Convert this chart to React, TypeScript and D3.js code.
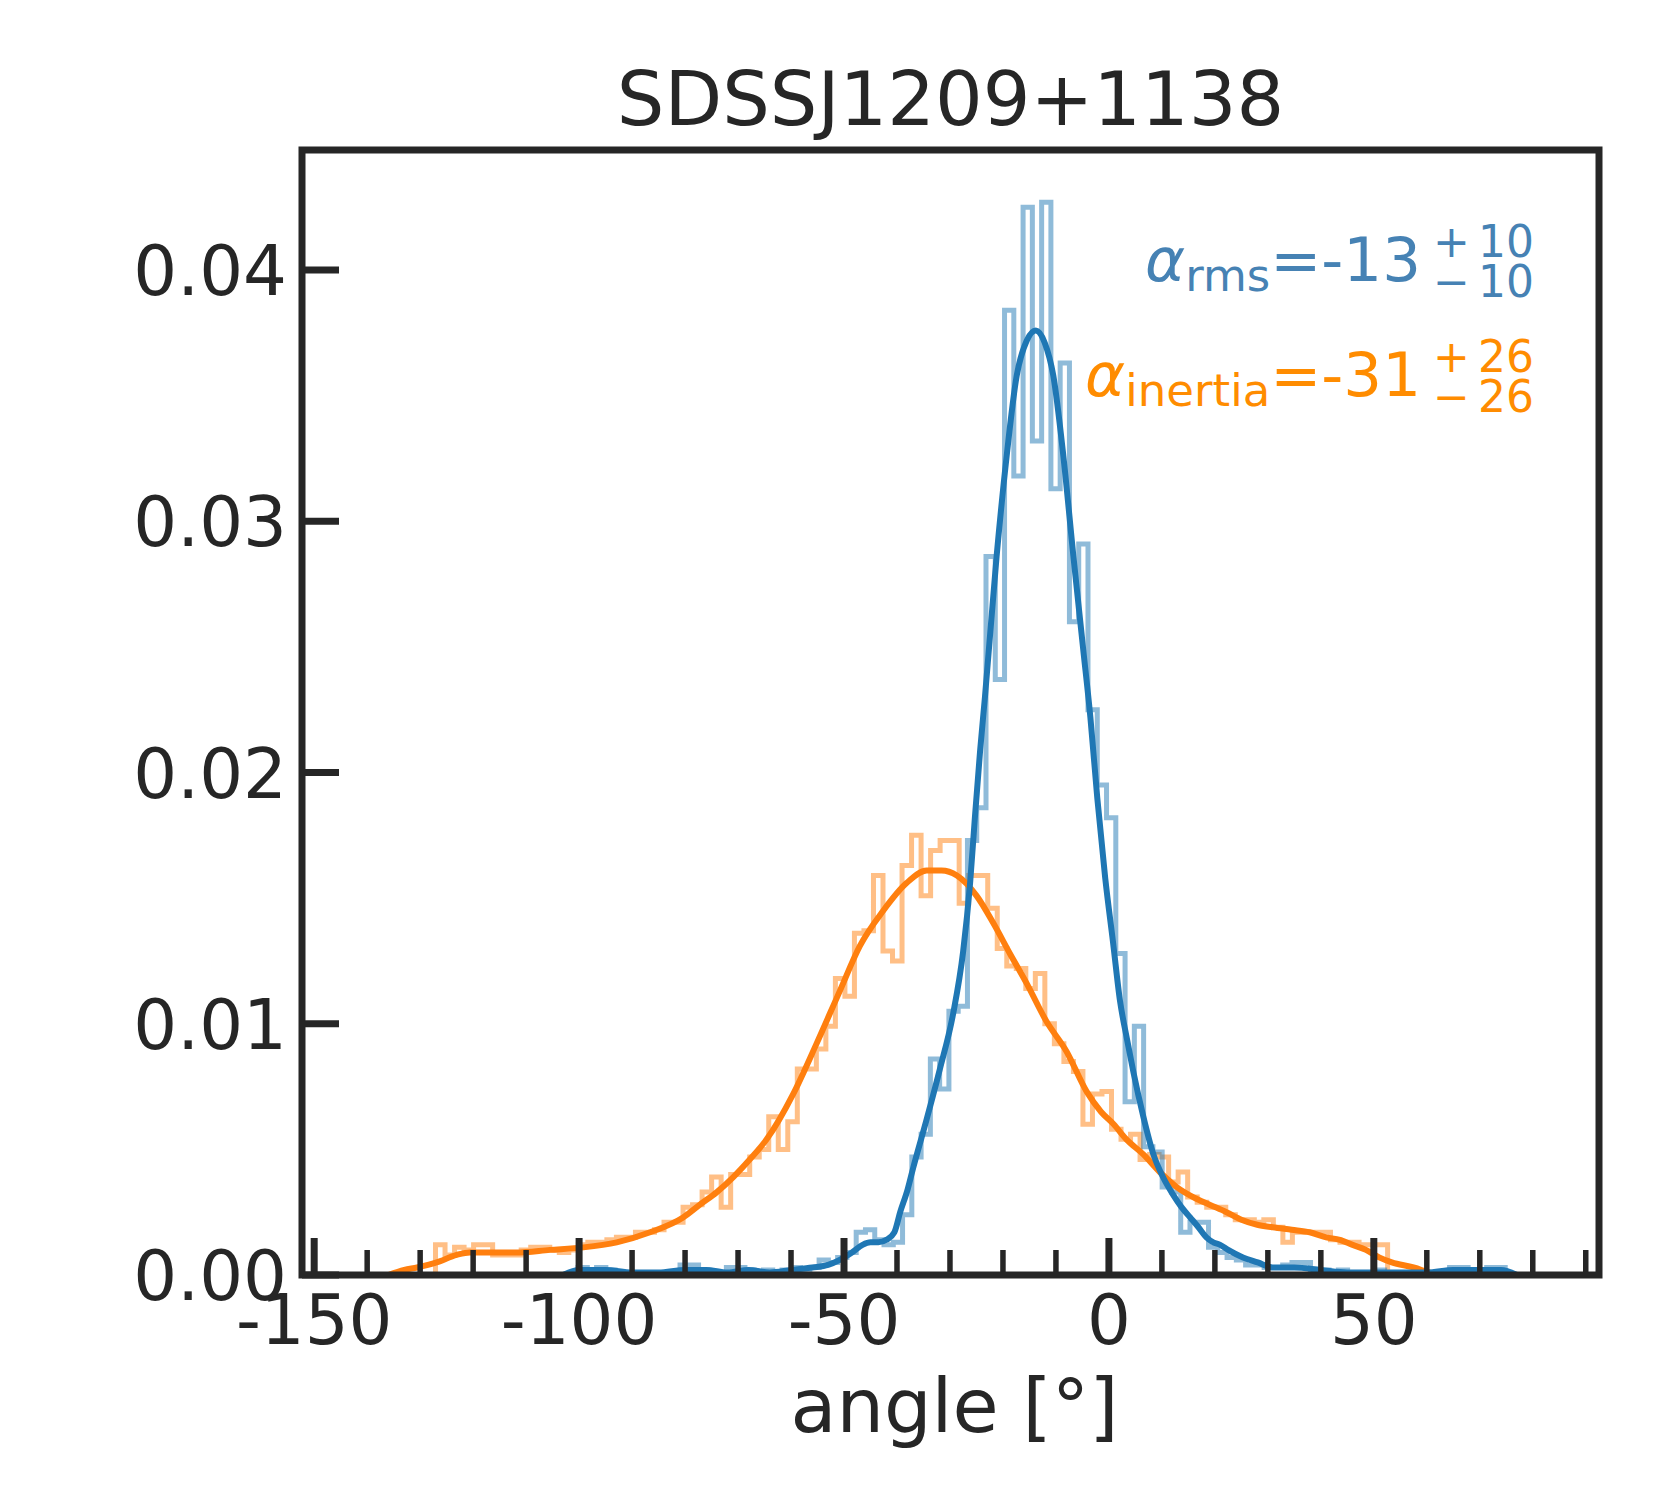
import React from 'react';
import * as d3 from 'd3';

// ---------- data ----------
const title = 'SDSSJ1209+1138';
const xLabel = 'angle [°]';
const xMajorTicks = [-150, -100, -50, 0, 50];
const xMinorTicks = [-140, -130, -120, -110, -90, -80, -70, -60, -40, -30, -20, -10, 10, 20, 30, 40, 60, 70, 80, 90];
const yTicks = [0, 0.01, 0.02, 0.03, 0.04];
const yTickLabels = ['0.00', '0.01', '0.02', '0.03', '0.04'];

// rms histogram (blue): first bin edge and bin width in degrees
const rmsStart = -100.2;
const rmsBinWidth = 1.75;
const rmsHist = [
  0.0003, 0.0002, 0.0003, 0.0002, 0, 0, 0, 0, 0, 0,
  0, 0.0004, 0.0004, 0.0002, 0, 0, 0.0003, 0.0003, 0.0002, 0,
  0.0002, 0, 0.0002, 0.0003, 0.0002, 0.0003, 0.0006, 0.0005, 0.0007, 0.0009,
  0.0017, 0.0018, 0.0014, 0.0012, 0.0013, 0.0024, 0.0047, 0.0056, 0.0086, 0.0074,
  0.0105, 0.0107, 0.0173, 0.0186, 0.0286, 0.0237, 0.0384, 0.0318, 0.0425, 0.0332,
  0.0427, 0.0313, 0.0363, 0.0260, 0.0291, 0.0225, 0.0195, 0.0182, 0.0128, 0.0069,
  0.0099, 0.0051, 0.0049, 0.0035, 0.0033, 0.0017, 0.0021, 0.0021, 0.0011, 0.0009,
  0.0007, 0.0006, 0.0004, 0.0004, 0.0003, 0.0003, 0.0004, 0.0005, 0.0005, 0.0002,
  0.0002, 0, 0.0002, 0, 0, 0, 0.0002, 0, 0, 0,
  0, 0, 0, 0, 0.0003, 0.0003, 0, 0, 0.0003, 0.0003,
];

// inertia histogram (orange)
const inertiaStart = -127.1;
const inertiaBinWidth = 1.797;
const inertiaHist = [
  0.0012, 0.0008, 0.0011, 0.0010, 0.0012, 0.0012, 0.0008, 0.0008, 0.0008, 0.0010,
  0.0011, 0.0011, 0.0010, 0.0009, 0.0010, 0.0012, 0.0013, 0.0013, 0.0014, 0.0015,
  0.0015, 0.0017, 0.0017, 0.0018, 0.0021, 0.0021, 0.0027, 0.0028, 0.0033, 0.0039,
  0.0027, 0.0040, 0.0040, 0.0047, 0.0050, 0.0063, 0.0050, 0.0061, 0.0082, 0.0082,
  0.0090, 0.0099, 0.0118, 0.0111, 0.0136, 0.0137, 0.0159, 0.0129, 0.0125, 0.0163,
  0.0175, 0.0151, 0.0169, 0.0173, 0.0173, 0.0148, 0.0159, 0.0159, 0.0146, 0.0130,
  0.0123, 0.0122, 0.0114, 0.0120, 0.0100, 0.0092, 0.0085, 0.0081, 0.0060, 0.0072,
  0.0073, 0.0058, 0.0054, 0.0056, 0.0046, 0.0048, 0.0047, 0.0037, 0.0041, 0.0031,
  0.0029, 0.0027, 0.0027, 0.0024, 0.0022, 0.0022, 0.0021, 0.0022, 0.0019, 0.0013,
  0.0017, 0.0017, 0.0017, 0.0017, 0.0014, 0.0013, 0.0013, 0.0012, 0.0012, 0.0012,
];

// KDE curves: [angle, density]
const rmsKde: [number, number][] = [
  [-103, 0], [-100, 0.0002], [-95, 0.0002], [-90, 0.0001], [-85, 0.0001], [-80, 0.0002],
  [-76, 0.0002], [-72, 0.0001], [-68, 0.0002], [-64, 0.0001], [-60, 0.0002], [-56, 0.0003],
  [-53, 0.0004], [-50.8, 0.0006], [-48.5, 0.0009], [-46.5, 0.0012], [-45, 0.0013], [-43.5, 0.0013],
  [-42, 0.0014], [-40.5, 0.0017], [-39.4, 0.0025], [-38, 0.0034], [-36.9, 0.0043], [-34.4, 0.0062],
  [-31.9, 0.0082], [-29.4, 0.0104], [-27.5, 0.0129], [-26.2, 0.0156], [-25.3, 0.0182], [-24.3, 0.0209],
  [-23.4, 0.0230], [-21.2, 0.0286], [-19.3, 0.0326], [-17.4, 0.0358], [-15.5, 0.0372], [-13.8, 0.0376],
  [-12.1, 0.0371], [-10.5, 0.0358], [-8.6, 0.0326], [-6.7, 0.0286], [-4.85, 0.0249], [-3.5, 0.0222],
  [-2.2, 0.0190], [-0.7, 0.0158], [0.8, 0.0132], [2.1, 0.0109], [3.4, 0.0094], [4.6, 0.0081],
  [6.5, 0.0063], [8.4, 0.0048], [10.2, 0.0039], [12.1, 0.0032], [13.7, 0.0027], [15.3, 0.0023],
  [16.9, 0.0019], [18.4, 0.0015], [19.7, 0.0013], [21, 0.0012], [22.5, 0.0010], [25.3, 0.0007],
  [28.1, 0.0005], [30.9, 0.0003], [35, 0.0003], [40, 0.0002], [45, 0.0001], [50, 0.0001],
  [55, 0.0001], [60, 0.0001], [65, 0.0002], [70, 0.0002], [74, 0.0002], [77, 0],
];

const inertiaKde: [number, number][] = [
  [-136, 0], [-133, 0.0002], [-130.6, 0.0003], [-126.9, 0.0005], [-123.1, 0.0008], [-120.6, 0.0009],
  [-116.8, 0.0009], [-111.8, 0.0009], [-105.5, 0.0010], [-99.2, 0.0011], [-92.9, 0.0013], [-86.6, 0.0017],
  [-80.3, 0.0023], [-77.2, 0.0028], [-74, 0.0033], [-70.9, 0.0039], [-67.8, 0.0046], [-64.6, 0.0054],
  [-59.6, 0.0072], [-55.2, 0.0092], [-50.8, 0.0113], [-47.0, 0.0131], [-42.6, 0.0145], [-38.2, 0.0156],
  [-34.4, 0.0161], [-31.6, 0.0161], [-28.7, 0.0159], [-25.0, 0.0151], [-21.8, 0.0140], [-18.7, 0.0128],
  [-15.5, 0.0116], [-11.8, 0.0101], [-8.0, 0.0089], [-4.2, 0.0073], [-1.5, 0.0065], [0.9, 0.0060],
  [3.3, 0.0054], [6.5, 0.0048], [9.6, 0.0041], [12.8, 0.0035], [15.9, 0.0031], [19, 0.0028],
  [22.2, 0.0025], [25, 0.0022], [28, 0.0020], [30.9, 0.0019], [34.5, 0.0018], [37.9, 0.0017],
  [41, 0.0015], [43.6, 0.0014], [46, 0.0012], [48.5, 0.0010], [51, 0.0007], [53.4, 0.0005],
  [57.5, 0.0003], [60.4, 0.0001], [62, 0],
];

const rmsLabel = { name: 'rms', value: '-13', plus: '10', minus: '10' };
const inertiaLabel = { name: 'inertia', value: '-31', plus: '26', minus: '26' };

// ---------- layout ----------
const W = 1680;
const H = 1500;
const M = { left: 302, right: 1599, top: 150, bottom: 1275 };
const FONT = 'DejaVu Sans';
const DARK = '#262626';
const BLUE = '#1f77b4';
const ORANGE = '#ff7f0e';

const x = d3.scaleLinear().domain([-152.3, 92.5]).range([M.left, M.right]);
const y = d3.scaleLinear().domain([0, 0.04478]).range([M.bottom, M.top]);

function stepPath(start: number, width: number, values: number[]): string {
  const pts: [number, number][] = [[start, 0]];
  values.forEach((v, i) => {
    const e0 = start + i * width;
    const e1 = start + (i + 1) * width;
    pts.push([e0, v]);
    pts.push([e1, v]);
  });
  pts.push([start + values.length * width, 0]);
  const line = d3.line<[number, number]>().x((d) => x(d[0])).y((d) => y(d[1]));
  return line(pts) || '';
}

const kdeLine = d3
  .line<[number, number]>()
  .x((d) => x(d[0]))
  .y((d) => y(d[1]))
  .curve(d3.curveMonotoneX);

function Annotation({ lab, color, baseline }: { lab: typeof rmsLabel; color: string; baseline: number }) {
  const mainEnd = 1421;
  return (
    <g fill={color} fontFamily={FONT}>
      <text x={mainEnd} y={baseline} fontSize={61} textAnchor="end">
        <tspan fontStyle="italic">α</tspan>
        <tspan fontSize={45} dy={10}>{lab.name}</tspan>
        <tspan dy={-10}>={lab.value}</tspan>
      </text>
      <text x={1433} y={baseline - 24} fontSize={44}>+</text>
      <text x={1478} y={baseline - 24} fontSize={44}>{lab.plus}</text>
      <text x={1433} y={baseline + 16} fontSize={44}>−</text>
      <text x={1478} y={baseline + 16} fontSize={44}>{lab.minus}</text>
    </g>
  );
}

export default function App() {
  return (
    <svg
      width={W}
      height={H}
      viewBox={`0 0 ${W} ${H}`}
      style={{ position: 'absolute', left: 0, top: 0, display: 'block' }}
      fontFamily={FONT}
    >
      <rect x={0} y={0} width={W} height={H} fill="#ffffff" />
      <defs>
        <clipPath id="plotArea">
          <rect x={M.left} y={M.top} width={M.right - M.left} height={M.bottom - M.top} />
        </clipPath>
      </defs>

      <g clipPath="url(#plotArea)">
        <path d={stepPath(inertiaStart, inertiaBinWidth, inertiaHist)} fill="none" stroke={ORANGE} strokeOpacity={0.5} strokeWidth={5} />
        <path d={stepPath(rmsStart, rmsBinWidth, rmsHist)} fill="none" stroke={BLUE} strokeOpacity={0.5} strokeWidth={5} />
        <path d={kdeLine(inertiaKde) || ''} fill="none" stroke={ORANGE} strokeWidth={6} strokeLinecap="round" />
        <path d={kdeLine(rmsKde) || ''} fill="none" stroke={BLUE} strokeWidth={6} strokeLinecap="round" />
      </g>

      {/* ticks (inward) */}
      <g stroke={DARK}>
        {xMajorTicks.map((t) => (
          <line key={`xm${t}`} x1={x(t)} x2={x(t)} y1={M.bottom} y2={M.bottom - 37} strokeWidth={7} />
        ))}
        {xMinorTicks.map((t) => (
          <line key={`xn${t}`} x1={x(t)} x2={x(t)} y1={M.bottom} y2={M.bottom - 25} strokeWidth={5.5} />
        ))}
        {yTicks.map((t) => (
          <line key={`y${t}`} x1={M.left} x2={M.left + 37} y1={y(t)} y2={y(t)} strokeWidth={7} />
        ))}
      </g>

      {/* spines */}
      <rect
        x={M.left}
        y={M.top}
        width={M.right - M.left}
        height={M.bottom - M.top}
        fill="none"
        stroke={DARK}
        strokeWidth={7}
      />

      {/* tick labels */}
      <g fill={DARK} fontSize={69}>
        {xMajorTicks.map((t) => (
          <text key={`xl${t}`} x={x(t)} y={1344} textAnchor="middle">
            {String(t)}
          </text>
        ))}
        {yTicks.map((t, i) => (
          <text key={`yl${t}`} x={287} y={y(t) + 25} textAnchor="end">
            {yTickLabels[i]}
          </text>
        ))}
      </g>

      <text x={(M.left + M.right) / 2} y={125} fontSize={75} textAnchor="middle" fill={DARK}>
        {title}
      </text>
      <text x={(M.left + M.right) / 2 + 4} y={1432} fontSize={75} textAnchor="middle" fill={DARK}>
        {xLabel}
      </text>

      <Annotation lab={rmsLabel} color="#4682b4" baseline={281} />
      <Annotation lab={inertiaLabel} color="#ff8c00" baseline={396} />
    </svg>
  );
}
